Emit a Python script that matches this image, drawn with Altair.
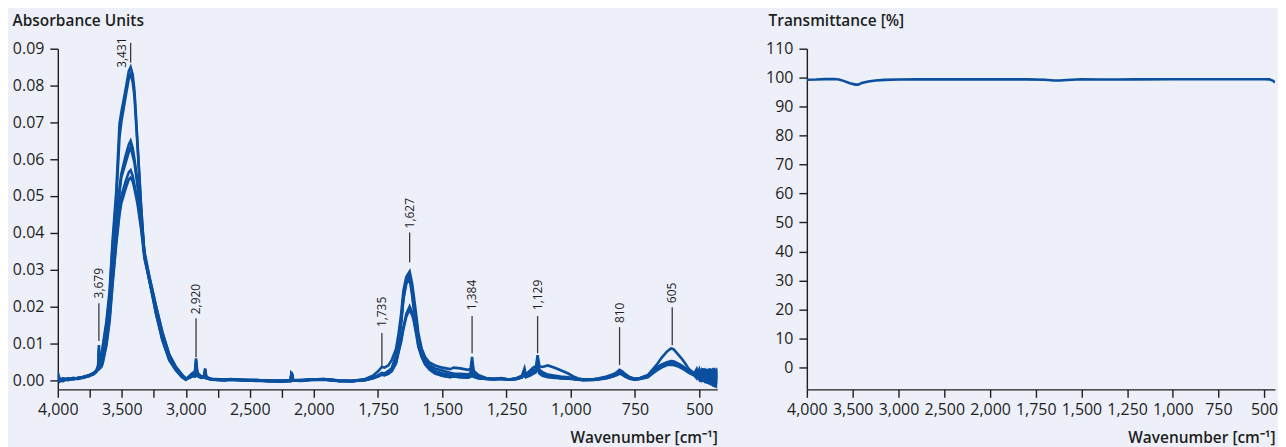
import altair as alt
import pandas as pd

BLUE = "#0b4f9f"
BG = "#edf0f8"
INK = "#1e1e1e"
FONT = "Open Sans"

# ---------------- left panel: absorbance spectra ----------------
wavenumber = [
    4000, 3985, 3960, 3920, 3880, 3840, 3800, 3760, 3720, 3700,
    3685, 3679, 3672, 3660, 3650, 3620, 3595, 3572, 3543, 3518,
    3504, 3470, 3445, 3431, 3415, 3401, 3378, 3349, 3323, 3284,
    3232, 3183, 3129, 3080, 3030, 3000, 2970, 2945, 2930, 2920,
    2910, 2880, 2855, 2849, 2840, 2800, 2700, 2650, 2550, 2450,
    2350, 2250, 2180, 2175, 2168, 2162, 2100, 2030, 1960, 1900,
    1850, 1800, 1770, 1750, 1735, 1725, 1710, 1697, 1680, 1670,
    1660, 1651, 1640, 1627, 1618, 1612, 1600, 1593, 1580, 1567,
    1550, 1528, 1500, 1470, 1455, 1430, 1400, 1390, 1384, 1378,
    1360, 1330, 1300, 1270, 1240, 1210, 1190, 1180, 1175, 1160,
    1145, 1135, 1129, 1122, 1110, 1089, 1060, 1039, 1010, 990,
    973, 950, 920, 890, 860, 835, 820, 810, 800, 790,
    770, 750, 730, 700, 680, 662, 645, 625, 610, 600,
    585, 570, 555, 540, 520, 510, 500, 492, 484, 476,
    468, 460, 452, 444, 436, 428, 420,
]

spectrum_1 = [
    0.0022, 0.0000, 0.0004, 0.0002, 0.0005, 0.0006, 0.0009, 0.0013, 0.0019, 0.0026,
    0.0040, 0.0095, 0.0045, 0.0058, 0.0090, 0.0160, 0.0244, 0.0380, 0.0515, 0.0696,
    0.0727, 0.0790, 0.0840, 0.0850, 0.0830, 0.0786, 0.0650, 0.0470, 0.0334, 0.0271,
    0.0180, 0.0108, 0.0054, 0.0028, 0.0008, 0.0001, 0.0012, 0.0020, 0.0018, 0.0059,
    0.0020, 0.0010, 0.0012, 0.0032, 0.0008, 0.0003, 0.0001, 0.0003, 0.0000, -0.0001,
    -0.0003, -0.0004, -0.0002, 0.0022, 0.0015, 0.0000, -0.0001, 0.0001, 0.0002, -0.0002,
    -0.0003, 0.0000, 0.0005, 0.0010, 0.0016, 0.0014, 0.0018, 0.0025, 0.0048, 0.0080,
    0.0110, 0.0145, 0.0180, 0.0200, 0.0185, 0.0170, 0.0125, 0.0095, 0.0065, 0.0045,
    0.0030, 0.0019, 0.0012, 0.0008, 0.0010, 0.0008, 0.0007, 0.0010, 0.0040, 0.0010,
    0.0005, 0.0003, 0.0002, 0.0004, 0.0001, 0.0003, 0.0008, 0.0020, 0.0008, 0.0012,
    0.0018, 0.0022, 0.0045, 0.0018, 0.0012, 0.0008, 0.0006, 0.0005, 0.0004, 0.0003,
    0.0001, 0.0000, 0.0001, 0.0003, 0.0006, 0.0011, 0.0016, 0.0022, 0.0018, 0.0013,
    0.0005, 0.0002, 0.0004, 0.0010, 0.0022, 0.0032, 0.0040, 0.0047, 0.0050, 0.0049,
    0.0044, 0.0038, 0.0030, 0.0022, 0.0015, 0.0025, 0.0002, 0.0030, -0.0005, 0.0028,
    -0.0010, 0.0032, -0.0015, 0.0025, -0.0020, 0.0034, 0.0010,
]

spectrum_2 = [
    0.0015, 0.0003, 0.0001, 0.0005, 0.0003, 0.0006, 0.0008, 0.0012, 0.0018, 0.0024,
    0.0035, 0.0085, 0.0042, 0.0052, 0.0085, 0.0150, 0.0230, 0.0360, 0.0490, 0.0660,
    0.0700, 0.0770, 0.0820, 0.0830, 0.0810, 0.0770, 0.0640, 0.0470, 0.0340, 0.0270,
    0.0180, 0.0110, 0.0055, 0.0030, 0.0010, 0.0002, 0.0010, 0.0018, 0.0017, 0.0055,
    0.0019, 0.0010, 0.0011, 0.0030, 0.0008, 0.0004, 0.0002, 0.0001, 0.0001, 0.0000,
    -0.0002, -0.0002, -0.0001, 0.0020, 0.0014, 0.0000, 0.0000, 0.0002, 0.0003, -0.0001,
    -0.0002, 0.0001, 0.0006, 0.0011, 0.0015, 0.0013, 0.0017, 0.0024, 0.0045, 0.0076,
    0.0105, 0.0140, 0.0172, 0.0192, 0.0178, 0.0165, 0.0120, 0.0090, 0.0062, 0.0043,
    0.0029, 0.0018, 0.0012, 0.0009, 0.0010, 0.0008, 0.0007, 0.0009, 0.0038, 0.0009,
    0.0005, 0.0004, 0.0003, 0.0003, 0.0002, 0.0004, 0.0007, 0.0018, 0.0010, 0.0014,
    0.0020, 0.0024, 0.0042, 0.0020, 0.0015, 0.0010, 0.0008, 0.0006, 0.0005, 0.0004,
    0.0002, 0.0001, 0.0001, 0.0004, 0.0008, 0.0013, 0.0018, 0.0024, 0.0020, 0.0015,
    0.0007, 0.0003, 0.0005, 0.0011, 0.0024, 0.0034, 0.0042, 0.0049, 0.0052, 0.0051,
    0.0046, 0.0040, 0.0032, 0.0024, 0.0017, 0.0008, 0.0028, 0.0005, 0.0025, -0.0008,
    0.0030, 0.0000, 0.0027, -0.0018, 0.0029, -0.0010, 0.0035,
]

spectrum_3 = [
    0.0005, -0.0004, 0.0002, 0.0000, 0.0004, 0.0003, 0.0007, 0.0011, 0.0016, 0.0022,
    0.0030, 0.0060, 0.0035, 0.0040, 0.0050, 0.0120, 0.0200, 0.0310, 0.0430, 0.0520,
    0.0560, 0.0610, 0.0640, 0.0650, 0.0630, 0.0600, 0.0540, 0.0440, 0.0350, 0.0280,
    0.0200, 0.0130, 0.0068, 0.0036, 0.0014, 0.0004, 0.0008, 0.0013, 0.0012, 0.0040,
    0.0014, 0.0008, 0.0009, 0.0022, 0.0006, 0.0002, 0.0000, 0.0002, -0.0001, 0.0000,
    -0.0001, -0.0003, -0.0002, 0.0016, 0.0011, -0.0001, -0.0002, 0.0000, 0.0001, -0.0003,
    -0.0002, 0.0003, 0.0012, 0.0024, 0.0036, 0.0034, 0.0040, 0.0054, 0.0085, 0.0127,
    0.0180, 0.0244, 0.0280, 0.0295, 0.0265, 0.0235, 0.0170, 0.0127, 0.0085, 0.0063,
    0.0048, 0.0040, 0.0034, 0.0030, 0.0034, 0.0032, 0.0028, 0.0030, 0.0063, 0.0026,
    0.0014, 0.0006, 0.0003, 0.0005, 0.0002, 0.0006, 0.0012, 0.0032, 0.0015, 0.0025,
    0.0035, 0.0038, 0.0068, 0.0038, 0.0036, 0.0040, 0.0033, 0.0027, 0.0018, 0.0010,
    0.0005, 0.0002, 0.0002, 0.0004, 0.0008, 0.0014, 0.0020, 0.0027, 0.0022, 0.0016,
    0.0007, 0.0003, 0.0006, 0.0014, 0.0030, 0.0045, 0.0062, 0.0078, 0.0086, 0.0084,
    0.0072, 0.0060, 0.0046, 0.0030, 0.0019, 0.0012, 0.0022, -0.0004, 0.0030, 0.0006,
    0.0026, -0.0012, 0.0029, 0.0008, 0.0031, -0.0022, 0.0028,
]

spectrum_4 = [
    0.0010, 0.0002, -0.0003, 0.0004, 0.0002, 0.0007, 0.0006, 0.0012, 0.0020, 0.0025,
    0.0034, 0.0070, 0.0038, 0.0045, 0.0055, 0.0110, 0.0190, 0.0300, 0.0420, 0.0510,
    0.0550, 0.0590, 0.0620, 0.0632, 0.0610, 0.0590, 0.0530, 0.0440, 0.0340, 0.0270,
    0.0190, 0.0120, 0.0062, 0.0032, 0.0011, 0.0003, 0.0009, 0.0015, 0.0014, 0.0045,
    0.0016, 0.0009, 0.0010, 0.0025, 0.0007, 0.0003, 0.0001, 0.0000, 0.0000, -0.0002,
    -0.0002, -0.0001, -0.0001, 0.0018, 0.0012, 0.0000, -0.0001, 0.0001, 0.0002, -0.0002,
    -0.0003, 0.0001, 0.0007, 0.0013, 0.0020, 0.0018, 0.0025, 0.0032, 0.0068, 0.0110,
    0.0165, 0.0230, 0.0268, 0.0280, 0.0250, 0.0217, 0.0155, 0.0115, 0.0078, 0.0055,
    0.0040, 0.0032, 0.0026, 0.0020, 0.0018, 0.0017, 0.0016, 0.0018, 0.0050, 0.0016,
    0.0010, 0.0005, 0.0004, 0.0006, 0.0001, 0.0005, 0.0010, 0.0025, 0.0012, 0.0020,
    0.0028, 0.0030, 0.0055, 0.0028, 0.0022, 0.0015, 0.0012, 0.0010, 0.0008, 0.0006,
    0.0003, 0.0001, 0.0002, 0.0005, 0.0010, 0.0016, 0.0022, 0.0028, 0.0024, 0.0018,
    0.0008, 0.0004, 0.0006, 0.0012, 0.0026, 0.0036, 0.0043, 0.0048, 0.0050, 0.0049,
    0.0045, 0.0040, 0.0033, 0.0025, 0.0018, 0.0030, 0.0006, 0.0024, 0.0002, 0.0031,
    -0.0004, 0.0028, -0.0010, 0.0033, -0.0016, 0.0030, -0.0020,
]

spectrum_5 = [
    -0.0003, 0.0001, 0.0005, 0.0002, 0.0006, 0.0004, 0.0009, 0.0010, 0.0017, 0.0023,
    0.0032, 0.0055, 0.0033, 0.0038, 0.0048, 0.0100, 0.0170, 0.0270, 0.0380, 0.0460,
    0.0500, 0.0540, 0.0565, 0.0570, 0.0555, 0.0530, 0.0490, 0.0420, 0.0340, 0.0280,
    0.0200, 0.0130, 0.0070, 0.0038, 0.0015, 0.0005, 0.0007, 0.0012, 0.0011, 0.0035,
    0.0012, 0.0007, 0.0008, 0.0020, 0.0005, 0.0002, -0.0001, 0.0001, 0.0001, 0.0000,
    -0.0003, -0.0002, -0.0002, 0.0015, 0.0010, -0.0001, -0.0001, 0.0002, 0.0003, -0.0001,
    -0.0002, 0.0000, 0.0006, 0.0012, 0.0018, 0.0016, 0.0022, 0.0030, 0.0062, 0.0105,
    0.0160, 0.0225, 0.0270, 0.0285, 0.0240, 0.0205, 0.0145, 0.0105, 0.0070, 0.0050,
    0.0036, 0.0025, 0.0019, 0.0014, 0.0013, 0.0012, 0.0011, 0.0013, 0.0045, 0.0012,
    0.0007, 0.0004, 0.0002, 0.0004, 0.0002, 0.0004, 0.0009, 0.0022, 0.0011, 0.0017,
    0.0024, 0.0027, 0.0050, 0.0022, 0.0016, 0.0010, 0.0008, 0.0006, 0.0005, 0.0004,
    0.0002, 0.0000, 0.0001, 0.0003, 0.0006, 0.0011, 0.0015, 0.0020, 0.0016, 0.0011,
    0.0004, 0.0001, 0.0004, 0.0009, 0.0020, 0.0030, 0.0037, 0.0043, 0.0045, 0.0044,
    0.0040, 0.0035, 0.0028, 0.0021, 0.0014, 0.0005, 0.0026, 0.0010, 0.0032, -0.0006,
    0.0025, 0.0003, 0.0031, -0.0014, 0.0028, 0.0012, 0.0030,
]

spectrum_6 = [
    0.0008, -0.0002, 0.0003, 0.0001, 0.0004, 0.0005, 0.0007, 0.0013, 0.0018, 0.0024,
    0.0030, 0.0050, 0.0032, 0.0036, 0.0045, 0.0095, 0.0160, 0.0260, 0.0370, 0.0450,
    0.0480, 0.0520, 0.0545, 0.0550, 0.0540, 0.0520, 0.0480, 0.0410, 0.0330, 0.0270,
    0.0190, 0.0120, 0.0064, 0.0034, 0.0012, 0.0002, 0.0006, 0.0011, 0.0010, 0.0033,
    0.0011, 0.0006, 0.0007, 0.0018, 0.0005, 0.0001, 0.0000, 0.0002, -0.0001, -0.0001,
    -0.0002, -0.0003, -0.0002, 0.0014, 0.0009, -0.0001, 0.0000, 0.0001, 0.0002, -0.0002,
    -0.0003, 0.0001, 0.0005, 0.0011, 0.0017, 0.0015, 0.0021, 0.0028, 0.0058, 0.0100,
    0.0155, 0.0220, 0.0262, 0.0275, 0.0235, 0.0200, 0.0140, 0.0100, 0.0068, 0.0048,
    0.0033, 0.0022, 0.0016, 0.0012, 0.0011, 0.0010, 0.0009, 0.0011, 0.0042, 0.0010,
    0.0006, 0.0003, 0.0003, 0.0003, 0.0001, 0.0003, 0.0008, 0.0020, 0.0010, 0.0015,
    0.0022, 0.0025, 0.0048, 0.0020, 0.0014, 0.0009, 0.0007, 0.0005, 0.0004, 0.0003,
    0.0001, 0.0001, 0.0000, 0.0002, 0.0005, 0.0010, 0.0014, 0.0018, 0.0015, 0.0010,
    0.0004, 0.0002, 0.0003, 0.0008, 0.0019, 0.0028, 0.0035, 0.0041, 0.0042, 0.0041,
    0.0038, 0.0033, 0.0027, 0.0020, 0.0013, 0.0020, 0.0004, 0.0028, -0.0002, 0.0022,
    0.0005, 0.0030, -0.0008, 0.0026, -0.0005, 0.0032, 0.0015,
]

spectra = [spectrum_1, spectrum_2, spectrum_3, spectrum_4, spectrum_5, spectrum_6]

# peak annotations
peak_wn = [3679, 3431, 2920, 1735, 1627, 1384, 1129, 810, 605]
peak_text = ["3,679", "3,431", "2,920", "1,735", "1,627", "1,384", "1,129", "810", "605"]
peak_line_lo = [0.0106, 0.0862, 0.0062, 0.0036, 0.0320, 0.0073, 0.0073, 0.0041, 0.0095]
peak_line_hi = [0.0209, 0.0916, 0.0168, 0.0128, 0.0401, 0.0174, 0.0174, 0.0144, 0.0198]
peak_text_wn = [3679, 3500, 2920, 1735, 1627, 1384, 1129, 810, 605]
peak_text_y = [0.0222, 0.0848, 0.0179, 0.0144, 0.0412, 0.0190, 0.0190, 0.0155, 0.0209]

# ---------------- right panel: transmittance ----------------
trans_wn = [4000, 3900, 3800, 3700, 3650, 3600, 3530, 3470, 3440, 3400,
            3330, 3250, 3150, 3000, 2800, 2500, 2200, 2000, 1800, 1700,
            1650, 1620, 1580, 1500, 1400, 1300, 1200, 1000, 800, 600,
            500, 470, 450, 440]
trans_val = [99.3, 99.35, 99.5, 99.55, 99.4, 98.9, 98.1, 97.6, 97.6, 98.2,
             98.7, 99.05, 99.25, 99.35, 99.4, 99.4, 99.4, 99.4, 99.4, 99.3,
             99.05, 99.0, 99.2, 99.45, 99.35, 99.35, 99.4, 99.45, 99.45, 99.45,
             99.45, 99.4, 98.9, 98.3]

left_ticks = [4000, 3750, 3500, 3250, 3000, 2750, 2500, 2250, 2000,
              1750, 1500, 1250, 1000, 750, 500]
right_ticks = [4000, 3500, 3000, 2500, 2000, 1750, 1500, 1250, 1000, 750, 500]
abs_ticks = [0.0, 0.01, 0.02, 0.03, 0.04, 0.05, 0.06, 0.07, 0.08, 0.09]
trans_ticks = [0, 10, 20, 30, 40, 50, 60, 70, 80, 90, 100, 110]

# ---------------- tables ----------------
rows = []
for i, s in enumerate(spectra):
    assert len(s) == len(wavenumber), (i, len(s), len(wavenumber))
    for w, a in zip(wavenumber, s):
        rows.append({"wn": w, "absorbance": a, "series": f"s{i + 1}"})
df_abs = pd.DataFrame(rows)

df_peaks = pd.DataFrame({
    "wn": peak_wn, "lo": peak_line_lo, "hi": peak_line_hi,
    "twn": peak_text_wn, "ty": peak_text_y, "label": peak_text,
})
df_trans = pd.DataFrame({"wn": trans_wn, "t": trans_val})

LW, RW, H = 662, 470, 342

x_left = alt.Scale(domain=[4000, 2000, 430], range=[0, 257, LW], nice=False, zero=False)
y_left = alt.Scale(domain=[-0.0025, 0.09], nice=False, zero=False)
x_right = alt.Scale(domain=[4000, 2000, 440], range=[0, 184, RW], nice=False, zero=False)
y_right = alt.Scale(domain=[-7.6, 110], nice=False, zero=False)

common_axis = dict(
    grid=False, domainColor=INK, domainWidth=1.4, tickColor=INK, tickWidth=1.4,
    tickSize=8, labelColor=INK, labelFont=FONT, labelFontSize=16,
    labelOverlap=False,
    titleColor=INK, titleFont=FONT, titleFontSize=15.5, titleFontWeight=600,
)

x_axis_left = alt.Axis(
    values=left_ticks,
    labelExpr="datum.value > 2000 && datum.value % 500 != 0 ? '' : format(datum.value, ',')",
    labelFlush=False, labelPadding=4,
    title="Wavenumber [cm⁻¹]", titleAnchor="end", titleAlign="right",
    titleX=LW, titleY=53, titleBaseline="alphabetic",
    **common_axis,
)
y_axis_left = alt.Axis(
    values=abs_ticks, labelExpr="format(datum.value, '.2f')", labelPadding=6,
    title="Absorbance Units", titleAngle=0, titleAlign="left", titleAnchor="start",
    titleX=-46, titleY=-23, titleBaseline="alphabetic",
    **common_axis,
)

lines = alt.Chart(df_abs).mark_line(color=BLUE, strokeWidth=2.6, clip=True).encode(
    x=alt.X("wn:Q", scale=x_left, axis=x_axis_left),
    y=alt.Y("absorbance:Q", scale=y_left, axis=y_axis_left),
    detail="series:N",
)
rules = alt.Chart(df_peaks).mark_rule(color="#3a3a3a", strokeWidth=1.3).encode(
    x=alt.X("wn:Q", scale=x_left, axis=x_axis_left),
    y=alt.Y("lo:Q", scale=y_left, axis=y_axis_left),
    y2="hi:Q",
)
labels = alt.Chart(df_peaks).mark_text(
    angle=270, align="left", baseline="middle", fontSize=12, font=FONT, color=INK,
).encode(
    x=alt.X("twn:Q", scale=x_left, axis=x_axis_left),
    y=alt.Y("ty:Q", scale=y_left, axis=y_axis_left),
    text="label:N",
)

left = alt.layer(lines, rules, labels).properties(width=LW, height=H)

x_axis_right = alt.Axis(
    values=right_ticks, labelExpr="format(datum.value, ',')",
    labelFlush=False, labelPadding=4,
    title="Wavenumber [cm⁻¹]", titleAnchor="end", titleAlign="right",
    titleX=RW, titleY=53, titleBaseline="alphabetic",
    **common_axis,
)
y_axis_right = alt.Axis(
    values=trans_ticks, labelPadding=6,
    title="Transmittance [%]", titleAngle=0, titleAlign="left", titleAnchor="start",
    titleX=-39, titleY=-23, titleBaseline="alphabetic",
    **common_axis,
)
right = alt.Chart(df_trans).mark_line(color=BLUE, strokeWidth=2.6, clip=True).encode(
    x=alt.X("wn:Q", scale=x_right, axis=x_axis_right),
    y=alt.Y("t:Q", scale=y_right, axis=y_axis_right),
).properties(width=RW, height=H)

chart = alt.hconcat(left, right, spacing=48).configure(
    background=BG, padding={"left": 4, "top": 5, "right": 0, "bottom": 0}, font=FONT,
).configure_view(stroke=None)

chart.save("out.html", embed_options={"renderer": "svg", "actions": False})
